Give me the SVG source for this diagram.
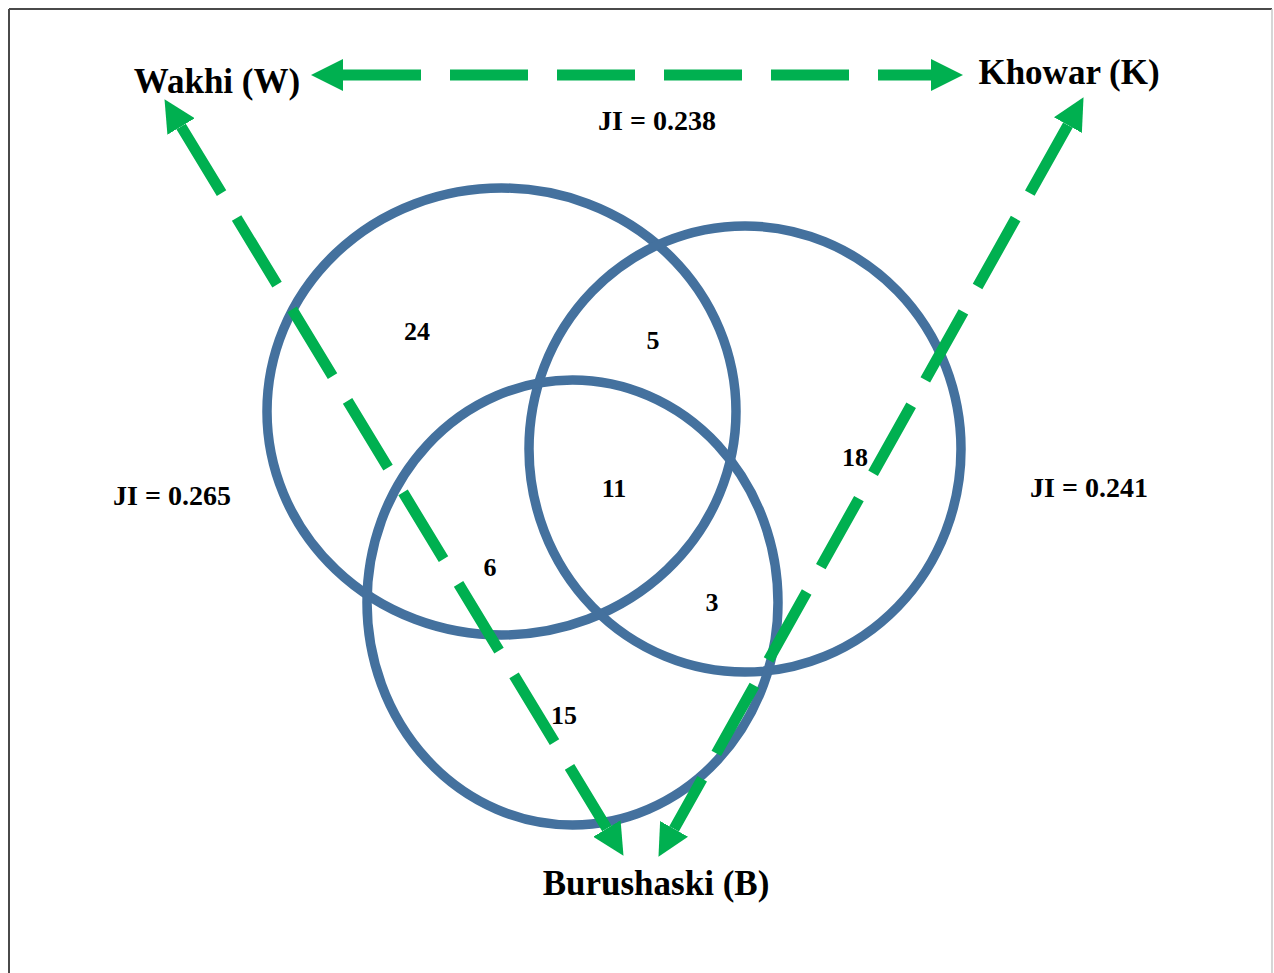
<svg xmlns="http://www.w3.org/2000/svg" width="1274" height="973" viewBox="0 0 1274 973">
  <style>
    .circle { fill: none; stroke: #44719E; stroke-width: 9.5; }
    .conn { fill: none; stroke: #00B050; stroke-width: 11; stroke-dasharray: 78 29; }
    .name { font-family: "Liberation Serif", "Times New Roman", serif; font-weight: bold; font-size: 35px; fill: #000; text-anchor: middle; }
    .ji { font-family: "Liberation Serif", "Times New Roman", serif; font-weight: bold; font-size: 28px; fill: #000; text-anchor: middle; }
    .num { font-family: "Liberation Serif", "Times New Roman", serif; font-weight: bold; font-size: 26px; fill: #000; text-anchor: middle; }
  </style>
  <defs>
    <marker id="head" markerUnits="userSpaceOnUse" markerWidth="32" markerHeight="32" viewBox="0 0 31 31" refX="0" refY="15.5" orient="auto-start-reverse">
      <path d="M0,0 L31,15.5 L0,31 Z" fill="#00B050"/>
    </marker>
  </defs>
  <rect x="0" y="0" width="1274" height="973" fill="#ffffff"/>
  <g id="frame">
    <line x1="9" y1="9" x2="9" y2="973" stroke="#4a4a4a" stroke-width="2"/>
    <line x1="9" y1="9" x2="1272" y2="9" stroke="#4a4a4a" stroke-width="2"/>
    <line x1="1272" y1="9" x2="1272" y2="973" stroke="#c8c8c8" stroke-width="1.5"/>
  </g>

  <g id="sets">
    <g id="set-wakhi"><ellipse class="circle" cx="501.5" cy="411.5" rx="234.5" ry="223.5"/></g>
    <g id="set-khowar"><ellipse class="circle" cx="745" cy="449" rx="216" ry="223"/></g>
    <g id="set-burushaski"><ellipse class="circle" cx="572.5" cy="602.5" rx="205.5" ry="222.5"/></g>
  </g>

  <g id="connectors">
    <line class="conn" x1="343" y1="75" x2="931" y2="75" marker-start="url(#head)" marker-end="url(#head)"/>
    <line class="conn" x1="181.1" y1="126.5" x2="606.9" y2="828.5" marker-start="url(#head)" marker-end="url(#head)"/>
    <line class="conn" x1="1067.9" y1="125.1" x2="674.1" y2="828.9" marker-start="url(#head)" marker-end="url(#head)"/>
  </g>

  <g id="node-wakhi"><text class="name" x="217" y="93">Wakhi (W)</text></g>
  <g id="node-khowar"><text class="name" x="1069" y="84">Khowar (K)</text></g>
  <g id="node-burushaski"><text class="name" x="656" y="895">Burushaski (B)</text></g>

  <g id="ji-labels">
    <text class="ji" x="657" y="130">JI = 0.238</text>
    <text class="ji" x="172" y="505">JI = 0.265</text>
    <text class="ji" x="1089" y="497">JI = 0.241</text>
  </g>

  <g id="counts">
    <text class="num" x="417" y="340">24</text>
    <text class="num" x="653" y="349">5</text>
    <text class="num" x="614" y="497">11</text>
    <text class="num" x="855" y="466">18</text>
    <text class="num" x="490" y="576">6</text>
    <text class="num" x="712" y="611">3</text>
    <text class="num" x="564" y="724">15</text>
  </g>
</svg>
